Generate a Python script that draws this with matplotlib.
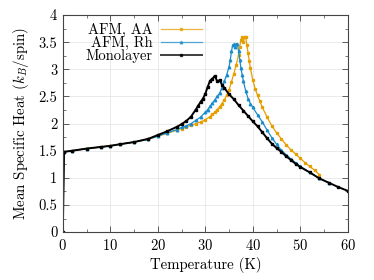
import matplotlib
matplotlib.use('Agg')
import matplotlib.pyplot as plt
from matplotlib.ticker import MultipleLocator, FormatStrFormatter

plt.rcParams['font.family'] = 'cmr10'
plt.rcParams['mathtext.fontset'] = 'cm'
plt.rcParams['axes.formatter.use_mathtext'] = True

# AFM, AA stacking
t_aa = [0, 0.25, 2, 5, 8, 10, 12, 15, 18, 20, 22, 24, 25, 26, 27, 28, 29, 30, 31,
        31.5, 32, 32.5, 33, 33.5, 34, 34.5, 35, 35.5, 36, 36.5, 37, 37.25, 37.5,
        37.75, 38, 38.25, 38.5, 38.75, 39, 39.25, 39.5, 40, 40.5, 41, 41.5, 42,
        43, 44, 45, 46, 47, 48, 49, 50, 51, 52, 53, 54]
c_aa = [0, 1.48, 1.50, 1.54, 1.57, 1.59, 1.62, 1.66, 1.71, 1.77, 1.82, 1.88, 1.91,
        1.94, 1.97, 2.00, 2.03, 2.07, 2.13, 2.17, 2.21, 2.26, 2.31, 2.37, 2.44,
        2.52, 2.62, 2.77, 2.92, 3.08, 3.27, 3.42, 3.55, 3.59, 3.50, 3.59, 3.59,
        3.45, 3.30, 3.15, 3.02, 2.80, 2.64, 2.52, 2.41, 2.30, 2.12, 1.96, 1.83,
        1.72, 1.61, 1.52, 1.44, 1.36, 1.28, 1.21, 1.14, 1.06]

# AFM, Rh stacking
t_rh = [0, 0.25, 2, 5, 8, 10, 12, 15, 18, 20, 22, 24, 25, 26, 27, 28, 29, 30, 30.5,
        31, 31.5, 32, 32.5, 33, 33.5, 34, 34.5, 35, 35.25, 35.5, 35.75, 36, 36.25,
        36.5, 36.75, 37, 37.25, 37.5, 37.75, 38, 38.5, 39, 39.5, 40, 41, 42, 43,
        44, 45, 46, 47, 48, 49, 50, 52, 54, 56]
c_rh = [0, 1.48, 1.50, 1.54, 1.57, 1.59, 1.62, 1.66, 1.71, 1.77, 1.83, 1.89, 1.93,
        1.96, 2.00, 2.06, 2.12, 2.21, 2.26, 2.32, 2.38, 2.44, 2.50, 2.56, 2.66,
        2.78, 2.90, 3.05, 3.17, 3.33, 3.45, 3.46, 3.42, 3.46, 3.47, 3.33, 3.18,
        3.02, 2.90, 2.79, 2.60, 2.46, 2.37, 2.30, 2.16, 2.03, 1.88, 1.74, 1.62,
        1.51, 1.43, 1.35, 1.28, 1.21, 1.10, 0.99, 0.91]

# Monolayer
t_mono = [0, 0.25, 2, 5, 8, 10, 12, 15, 18, 20, 22, 24, 25, 26, 27, 28, 28.5, 29,
          29.5, 30, 30.5, 31, 31.5, 32, 32.5, 33, 33.5, 34, 35, 36, 37, 38, 39, 40,
          41, 42, 43, 44, 45, 46, 47, 48, 49, 50, 52, 54, 56, 58, 60]
c_mono = [0, 1.48, 1.50, 1.54, 1.57, 1.59, 1.62, 1.66, 1.72, 1.79, 1.86, 1.94, 1.99,
          2.05, 2.13, 2.26, 2.33, 2.40, 2.46, 2.55, 2.68, 2.79, 2.83, 2.88, 2.78,
          2.80, 2.72, 2.66, 2.54, 2.45, 2.34, 2.24, 2.14, 2.04, 1.95, 1.84, 1.73,
          1.63, 1.55, 1.48, 1.40, 1.33, 1.26, 1.20, 1.10, 0.99, 0.91, 0.83, 0.76]

fig = plt.figure(figsize=(3.74, 2.80), dpi=100)
ax = fig.add_axes([0.168, 0.171, 0.762, 0.775])

ax.plot(t_aa, c_aa, '-s', color='#E69F00', lw=0.9, ms=1.4, label='AFM, AA')
ax.plot(t_rh, c_rh, '-^', color='#1a8ccc', lw=0.9, ms=1.8, label='AFM, Rh')
ax.plot(t_mono, c_mono, '-s', color='black', lw=1.4, ms=1.6, label='Monolayer')

ax.set_xlim(0, 60)
ax.set_ylim(0, 4)
ax.xaxis.set_major_locator(MultipleLocator(10))
ax.xaxis.set_minor_locator(MultipleLocator(5))
ax.yaxis.set_major_locator(MultipleLocator(0.5))
ax.yaxis.set_minor_locator(MultipleLocator(0.25))
ax.yaxis.set_major_formatter(FormatStrFormatter('%g'))
ax.tick_params(which='both', direction='in', top=True, right=True,
               labelsize=10.5, color='#444444')
ax.tick_params(which='major', length=4, width=0.6, pad=4)
ax.tick_params(which='minor', length=2, width=0.5)
ax.grid(True, which='major', color='#e6e6e6', lw=0.6)
ax.set_axisbelow(True)
for s in ax.spines.values():
    s.set_color('#444444')
    s.set_linewidth(0.8)

ax.set_xlabel('Temperature (K)', fontsize=10.7, labelpad=3)
ax.set_ylabel('Mean Specific Heat ($k_B$/spin)', fontsize=10.7, labelpad=5)

leg = ax.legend(loc='upper right', bbox_to_anchor=(0.488, 0.965), frameon=False,
                markerfirst=False, fontsize=10.5, handlelength=2.8,
                handletextpad=0.6, labelspacing=-0.05, borderpad=0.0,
                borderaxespad=0.0)
for h in leg.legend_handles:
    h.set_alpha(0.75)

fig.savefig('out.png', dpi=100)
